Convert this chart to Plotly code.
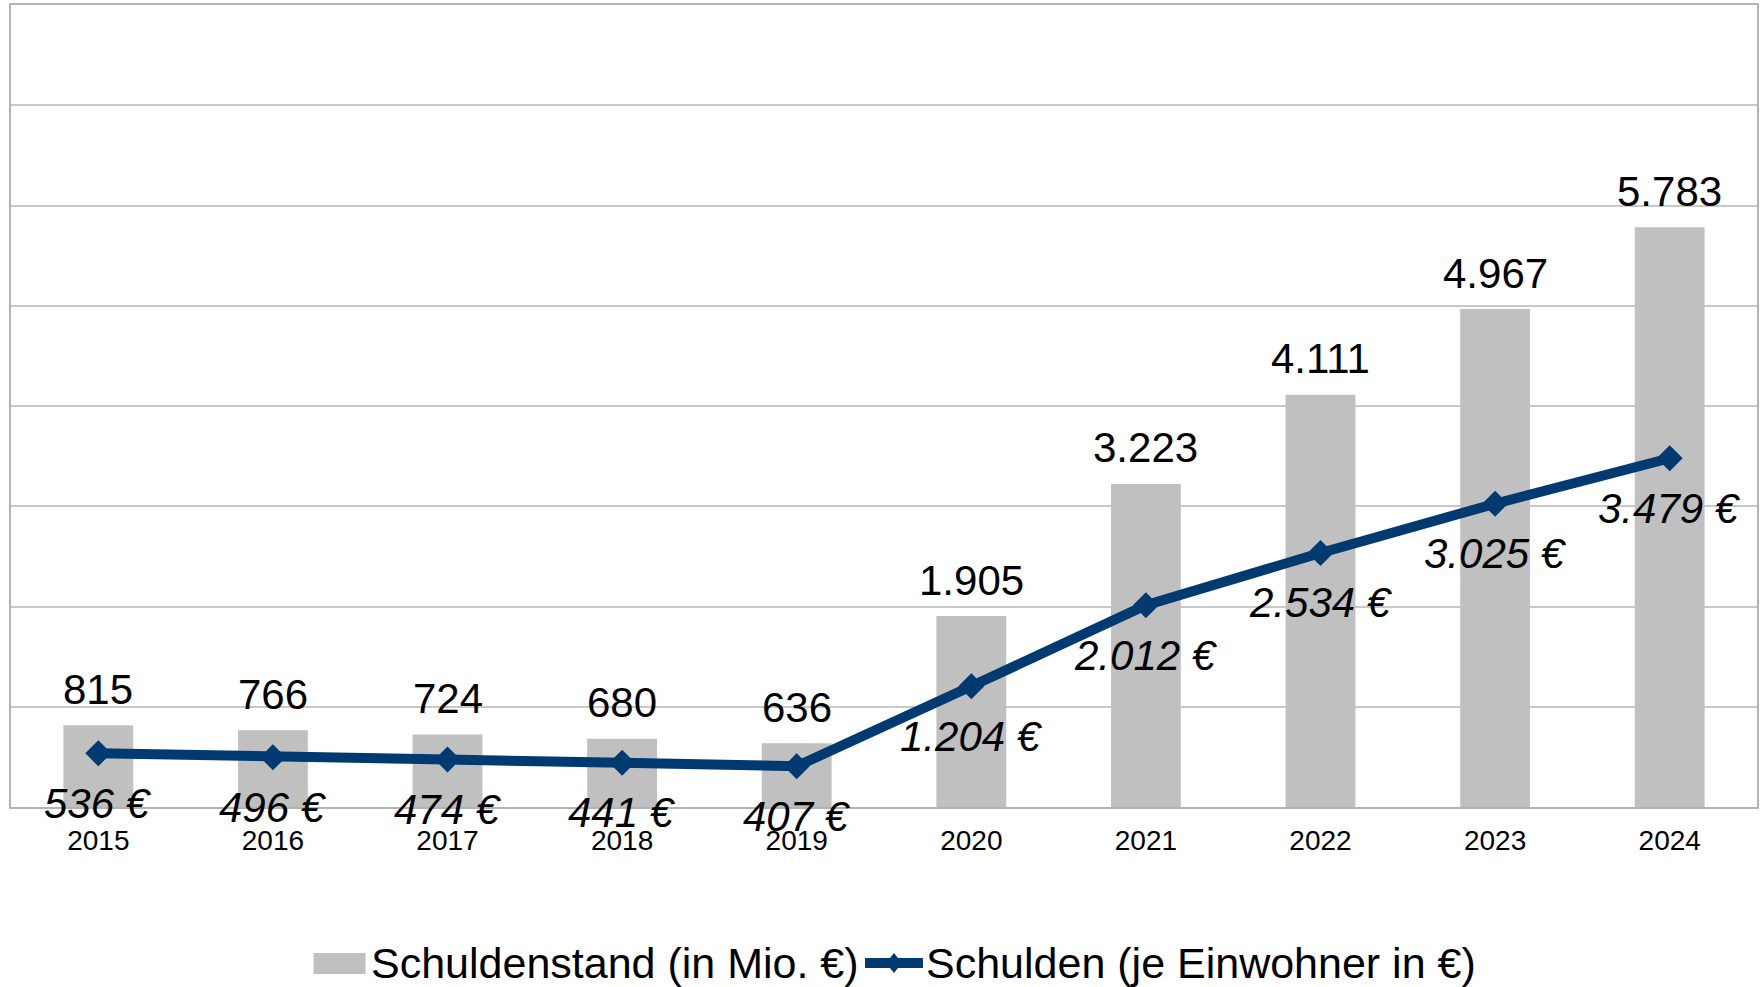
import plotly.graph_objects as go

years = ["2015", "2016", "2017", "2018", "2019", "2020", "2021", "2022", "2023", "2024"]
schuldenstand = [815, 766, 724, 680, 636, 1905, 3223, 4111, 4967, 5783]
je_einwohner = [536, 496, 474, 441, 407, 1204, 2012, 2534, 3025, 3479]
legend_names = ["Schuldenstand (in Mio. €)", "Schulden (je Einwohner in €)"]

BAR_COLOR = "#c0c0c0"
LINE_COLOR = "#003a70"
FONT = "Liberation Sans, Arial, sans-serif"

W, H = 1760, 987
ML, MR, MT, MB = 11, 1, 5, 180
PW, PH = W - ML - MR, H - MT - MB


def de(v):
    return f"{v:,}".replace(",", ".")


def px_x(px):
    return (px - ML) / PW


def px_y(py):
    return (H - MB - py) / PH


fig = go.Figure()
fig.add_trace(go.Bar(
    x=years, y=schuldenstand, name=legend_names[0],
    marker=dict(color=BAR_COLOR, line=dict(width=0)),
    showlegend=False,
))
fig.add_trace(go.Scatter(
    x=years, y=je_einwohner, name=legend_names[1],
    mode="lines+markers",
    line=dict(color=LINE_COLOR, width=10),
    marker=dict(symbol="diamond", size=20, color=LINE_COLOR),
    showlegend=False,
))

annotations = []
for i, v in enumerate(schuldenstand):
    annotations.append(dict(
        x=i, y=v, xref="x", yref="y", text=de(v), showarrow=False,
        yanchor="middle", xanchor="center", yshift=36,
        font=dict(family=FONT, size=42, color="#000000"),
    ))
for i, v in enumerate(je_einwohner):
    annotations.append(dict(
        x=i, y=v, xref="x", yref="y", text=f"<i>{de(v)} €</i>", showarrow=False,
        yanchor="middle", xanchor="center", yshift=-50,
        font=dict(family=FONT, size=42, color="#000000"),
    ))

# custom legend (large symbols as in the reference)
LEG_Y = 963
annotations.append(dict(
    x=px_x(369), y=px_y(LEG_Y), xref="paper", yref="paper", text=legend_names[0],
    showarrow=False, xanchor="left", yanchor="middle",
    font=dict(family=FONT, size=43, color="#000000"),
))
annotations.append(dict(
    x=px_x(925), y=px_y(LEG_Y), xref="paper", yref="paper", text=legend_names[1],
    showarrow=False, xanchor="left", yanchor="middle",
    font=dict(family=FONT, size=43, color="#000000"),
))
shapes = [
    dict(type="rect", xref="paper", yref="paper",
         x0=px_x(314), x1=px_x(366), y0=px_y(974), y1=px_y(953),
         fillcolor=BAR_COLOR, line=dict(width=0)),
    dict(type="line", xref="paper", yref="paper",
         x0=px_x(866), x1=px_x(924), y0=px_y(LEG_Y), y1=px_y(LEG_Y),
         line=dict(color=LINE_COLOR, width=10)),
    dict(type="path", xref="paper", yref="paper",
         xsizemode="pixel", ysizemode="pixel",
         xanchor=px_x(895), yanchor=px_y(LEG_Y),
         path="M -8,0 L 0,10 L 8,0 L 0,-10 Z",
         fillcolor=LINE_COLOR, line=dict(width=0)),
]

fig.update_layout(
    width=W, height=H,
    margin=dict(l=ML, r=MR, t=MT, b=MB),
    paper_bgcolor="white", plot_bgcolor="white",
    bargap=0.6,
    showlegend=False,
    font=dict(family=FONT, color="#000000"),
    annotations=annotations,
    shapes=shapes,
    hovermode=False,
)
fig.update_xaxes(
    type="category", range=[-0.5, len(years) - 0.5], autorange=False,
    showline=True, linecolor="#b3b3b3", linewidth=2, mirror=True,
    showgrid=False, ticks="", tickfont=dict(family=FONT, size=28, color="#000000"),
    ticklabelstandoff=7,
)
fig.update_yaxes(
    range=[0, 8000], dtick=1000, showticklabels=False,
    showgrid=True, gridcolor="#c8c8c8", gridwidth=2,
    showline=True, linecolor="#b3b3b3", linewidth=2, mirror=True,
    zeroline=False, ticks="",
)

fig.write_html(
    "out.html",
    config={"displayModeBar": False},
    post_script="document.body.style.margin='0';document.body.style.overflow='hidden';",
)
